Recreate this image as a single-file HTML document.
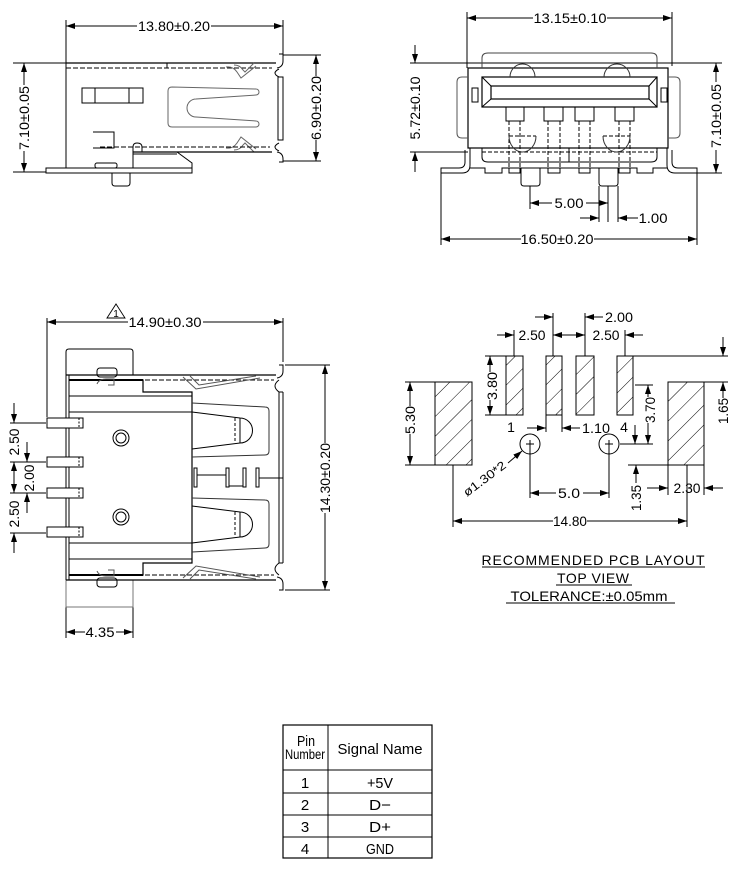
<!DOCTYPE html>
<html><head><meta charset="utf-8"><style>
html,body{margin:0;padding:0;background:#fff;}
svg{display:block;}
text{font-family:"Liberation Sans",sans-serif;font-size:14px;fill:#000;stroke:none;}
</style></head><body>
<svg width="733" height="872" viewBox="0 0 733 872" xmlns="http://www.w3.org/2000/svg">
<defs>
<marker id="ar" viewBox="0 0 9 6" refX="9" refY="3" markerWidth="9" markerHeight="6" markerUnits="userSpaceOnUse" orient="auto"><path d="M0,0 L9,3 L0,6 Z" fill="#000" stroke="none"/></marker>
<pattern id="h" width="14" height="14" patternUnits="userSpaceOnUse" patternTransform="rotate(45)"><line x1="0" y1="0" x2="0" y2="14" stroke="#000" stroke-width="1"/></pattern>
</defs>
<rect x="0" y="0" width="733" height="872" fill="#fff"/>
<g fill="none" stroke="#000" stroke-width="1">

<!-- ================= TOP LEFT VIEW ================= -->
<line x1="137" y1="26" x2="66" y2="26" marker-end="url(#ar)"/>
<line x1="211" y1="26" x2="283" y2="26" marker-end="url(#ar)"/>
<line x1="66" y1="20" x2="66" y2="168"/>
<line x1="283" y1="20" x2="283" y2="56"/>
<line x1="13" y1="63" x2="66" y2="63"/>
<line x1="13" y1="172" x2="46" y2="172"/>
<line x1="24" y1="85" x2="24" y2="63" marker-end="url(#ar)"/>
<line x1="24" y1="151" x2="24" y2="172" marker-end="url(#ar)"/>
<line x1="283" y1="55" x2="321" y2="55"/>
<line x1="283" y1="161" x2="321" y2="161"/>
<line x1="316" y1="76" x2="316" y2="55" marker-end="url(#ar)"/>
<line x1="316" y1="140" x2="316" y2="161" marker-end="url(#ar)"/>

<line x1="66" y1="63" x2="276" y2="63" stroke-width="1.2"/>
<line x1="66" y1="68" x2="272" y2="68" stroke-dasharray="5,2"/>
<line x1="167" y1="63" x2="167" y2="68"/>
<path d="M279,54 H283 V61 Q283,67 277,68"/>
<path d="M279,69 Q271,73 279,77"/>
<rect x="278" y="77" width="5" height="63"/>
<path d="M279,143 Q271,147 279,151"/>
<path d="M277,152 Q283,153 283,159 V162 H279"/>
<rect x="82" y="88" width="61" height="15"/>
<line x1="95" y1="88" x2="95" y2="103"/>
<line x1="129" y1="88" x2="129" y2="103"/>
<path d="M93,132 H114 V148 H93"/>
<path d="M172,87 L256,89 A3,3 0 0 1 256,95 L196,99 A9,9 0 0 0 196,117 L256,121 A3,3 0 0 1 256,127 L172,127 Q168,127 168,123 L168,91 Q168,87 172,87 Z" stroke="#666"/>
<path d="M226,67 Q233,66 237,72 L241,78 L256,66" stroke="#666"/>
<path d="M234,65 Q240,65 243,70 L245,72 L254,63" stroke="#666"/>
<path d="M226,148 Q233,149 237,143 L241,137 L256,149" stroke="#666"/>
<path d="M234,150 Q240,150 243,145 L245,143 L254,152" stroke="#666"/>
<line x1="100" y1="147" x2="270" y2="147" stroke-dasharray="5,2"/>
<line x1="133" y1="152" x2="272" y2="152" stroke-width="1.2"/>
<line x1="133" y1="154" x2="177" y2="154"/>
<path d="M177,152 L192,163 V173"/>
<path d="M133,152 V147 Q133,143 137,143 Q142,143 142,147 V152"/>
<line x1="133" y1="152" x2="133" y2="168"/>
<rect x="46" y="168" width="146" height="5"/>
<rect x="95" y="163" width="22" height="5" rx="2"/>
<path d="M112,173 V183 Q112,186 115,186 H127 Q130,186 130,183 V173"/>

<!-- ================= TOP RIGHT VIEW ================= -->
<line x1="533" y1="18" x2="467" y2="18" marker-end="url(#ar)"/>
<line x1="607" y1="18" x2="672" y2="18" marker-end="url(#ar)"/>
<line x1="467" y1="12" x2="467" y2="68"/>
<line x1="672" y1="12" x2="672" y2="66"/>
<line x1="410" y1="63" x2="722" y2="63"/>
<line x1="415" y1="45" x2="415" y2="63" marker-end="url(#ar)"/>
<line x1="415" y1="172" x2="415" y2="152" marker-end="url(#ar)"/>
<line x1="410" y1="152" x2="468" y2="152"/>
<line x1="716" y1="82" x2="716" y2="63" marker-end="url(#ar)"/>
<line x1="716" y1="150" x2="716" y2="173" marker-end="url(#ar)"/>
<line x1="697" y1="173" x2="722" y2="173"/>
<line x1="521" y1="239" x2="441" y2="239" marker-end="url(#ar)"/>
<line x1="594" y1="239" x2="697" y2="239" marker-end="url(#ar)"/>
<line x1="441" y1="173" x2="441" y2="245"/>
<line x1="697" y1="173" x2="697" y2="245"/>
<line x1="552" y1="203" x2="530" y2="203" marker-end="url(#ar)"/>
<line x1="586" y1="203" x2="608" y2="203" marker-end="url(#ar)"/>
<line x1="530" y1="186" x2="530" y2="209"/>
<line x1="599" y1="186" x2="599" y2="222"/>
<line x1="608" y1="186" x2="608" y2="222"/>
<line x1="618" y1="186" x2="618" y2="222"/>
<line x1="580" y1="218" x2="599" y2="218" marker-end="url(#ar)"/>
<line x1="638" y1="218" x2="618" y2="218" marker-end="url(#ar)"/>

<rect x="468" y="68" width="200" height="80" stroke-width="1.2"/>
<path d="M482,68 V58 Q482,53 488,53 H651 Q657,53 657,58 V68" stroke="#444"/>
<path d="M468,77 H462 Q457,77 457,82 V133 Q457,138 462,138 H468" stroke="#555"/>
<path d="M668,77 H675 Q680,77 680,82 V133 Q680,138 675,138 H668" stroke="#555"/>
<rect x="472" y="88" width="6" height="14"/>
<rect x="661" y="88" width="6" height="14"/>
<rect x="482" y="77" width="175" height="30" stroke-width="1.2"/>
<rect x="491" y="86" width="158" height="13" stroke-width="1.2"/>
<line x1="482" y1="77" x2="491" y2="86"/>
<line x1="657" y1="77" x2="649" y2="86"/>
<line x1="482" y1="107" x2="491" y2="99"/>
<line x1="657" y1="107" x2="649" y2="99"/>
<rect x="506" y="107" width="18" height="14"/>
<rect x="544" y="107" width="19" height="14"/>
<rect x="575" y="107" width="19" height="14"/>
<rect x="615" y="107" width="19" height="14"/>
<g stroke-dasharray="4,2">
<line x1="509" y1="121" x2="509" y2="168"/><line x1="520" y1="121" x2="520" y2="168"/>
<line x1="548" y1="121" x2="548" y2="168"/><line x1="560" y1="121" x2="560" y2="168"/>
<line x1="579" y1="121" x2="579" y2="168"/><line x1="590" y1="121" x2="590" y2="168"/>
<line x1="619" y1="121" x2="619" y2="168"/><line x1="630" y1="121" x2="630" y2="168"/>
<line x1="509" y1="136" x2="536" y2="136"/><line x1="603" y1="136" x2="630" y2="136"/>
<line x1="482" y1="152" x2="657" y2="152"/>
</g>
<path d="M510,77 A12.5,13 0 0 1 535,77" stroke="#333"/>
<path d="M604,77 A13,13 0 0 1 630,77" stroke="#333"/>
<path d="M536,136 A13.5,16 0 0 1 509,136" stroke="#333"/>
<path d="M630,136 A13.5,16 0 0 1 603,136" stroke="#333"/>
<path d="M482,148 V157 Q482,162 488,162 H651 Q657,162 657,157 V148"/>
<line x1="569" y1="148" x2="569" y2="162"/>
<path d="M465,150 V162 Q465,168 459,168 H441 V173 H462 Q470,173 470,165 V148"/>
<path d="M672,150 V162 Q672,168 678,168 H697 V173 H675 Q667,173 667,165 V148"/>
<polyline points="470,168 485,168 485,173 502,173 502,168 637,168 637,173 653,173 653,168 667,168"/>
<rect x="509" y="168" width="11" height="5"/>
<rect x="548" y="168" width="12" height="5"/>
<rect x="579" y="168" width="11" height="5"/>
<rect x="619" y="168" width="11" height="5"/>
<path d="M521,168 V183 Q521,186 524,186 H537 Q540,186 540,183 V168"/>
<path d="M599,168 V183 Q599,186 602,186 H615 Q618,186 618,183 V168"/>

<!-- ================= BOTTOM LEFT VIEW ================= -->
<path d="M107,318 L116,304 L125,318 Z" stroke-width="0.9"/>
<line x1="128" y1="322" x2="47" y2="322" marker-end="url(#ar)"/>
<line x1="203" y1="322" x2="283" y2="322" marker-end="url(#ar)"/>
<line x1="47" y1="318" x2="47" y2="417"/>
<line x1="283" y1="318" x2="283" y2="362"/>
<line x1="285" y1="365" x2="330" y2="365"/>
<line x1="285" y1="590" x2="330" y2="590"/>
<line x1="325" y1="443" x2="325" y2="365" marker-end="url(#ar)"/>
<line x1="325" y1="513" x2="325" y2="590" marker-end="url(#ar)"/>
<line x1="85" y1="632" x2="66" y2="632" marker-end="url(#ar)"/>
<line x1="116" y1="632" x2="133" y2="632" marker-end="url(#ar)"/>
<line x1="66" y1="607" x2="66" y2="638"/>
<line x1="133" y1="607" x2="133" y2="638"/>
<line x1="10" y1="423" x2="46" y2="423"/>
<line x1="10" y1="462" x2="46" y2="462"/>
<line x1="10" y1="493" x2="46" y2="493"/>
<line x1="10" y1="533" x2="46" y2="533"/>
<line x1="14" y1="403" x2="14" y2="423" marker-end="url(#ar)"/>
<line x1="27" y1="442" x2="27" y2="462" marker-end="url(#ar)"/>
<line x1="14" y1="477" x2="14" y2="462" marker-end="url(#ar)"/>
<line x1="14" y1="477" x2="14" y2="493" marker-end="url(#ar)"/>
<line x1="27" y1="513" x2="27" y2="493" marker-end="url(#ar)"/>
<line x1="14" y1="553" x2="14" y2="533" marker-end="url(#ar)"/>

<path d="M66,375 V352 Q66,349 69,349 H130 Q133,349 133,352 V375"/>
<path d="M66,580 V607 H133 V580" stroke="#777"/>
<line x1="66" y1="375" x2="276" y2="375" stroke-width="1.2"/>
<line x1="66" y1="580" x2="276" y2="580" stroke-width="1.2"/>
<line x1="145" y1="380" x2="274" y2="380" stroke-dasharray="5,2"/>
<line x1="145" y1="575" x2="274" y2="575" stroke-dasharray="5,2"/>
<line x1="66" y1="375" x2="66" y2="580"/>
<line x1="69" y1="375" x2="69" y2="580"/>
<path d="M69,380 H143 V392 H192 V563 H143 V575 H69" stroke-width="1.2"/>
<line x1="69" y1="380" x2="143" y2="380" stroke-width="2"/>
<line x1="69" y1="575" x2="143" y2="575" stroke-width="2"/>
<line x1="69" y1="396" x2="192" y2="396"/>
<line x1="69" y1="412" x2="192" y2="412"/>
<line x1="69" y1="543" x2="192" y2="543"/>
<line x1="69" y1="559" x2="192" y2="559"/>
<rect x="47" y="418" width="36" height="10" fill="#fff"/>
<rect x="47" y="457" width="36" height="10" fill="#fff"/>
<rect x="47" y="488" width="36" height="10" fill="#fff"/>
<rect x="47" y="527" width="36" height="10" fill="#fff"/>
<g stroke-dasharray="2,1.5">
<line x1="79" y1="418" x2="79" y2="428"/><line x1="79" y1="457" x2="79" y2="467"/>
<line x1="79" y1="488" x2="79" y2="498"/><line x1="79" y1="527" x2="79" y2="537"/>
</g>
<circle cx="121" cy="438" r="8"/><circle cx="121" cy="438" r="5"/>
<circle cx="121" cy="517" r="8"/><circle cx="121" cy="517" r="5"/>
<path d="M192,403 L265,407 Q269,407 269,411 L269,451 Q269,455 265,455 L192,457" stroke="#333"/>
<path d="M192,412 L240,418 A12.5,12.5 0 0 1 240,443 L192,449"/>
<line x1="235" y1="418" x2="235" y2="443" stroke-dasharray="3,2"/>
<line x1="240" y1="418" x2="240" y2="443"/>
<path d="M192,552 L265,548 Q269,548 269,544 L269,504 Q269,500 265,500 L192,498" stroke="#333"/>
<path d="M192,543 L240,537 A12.5,12.5 0 0 0 240,512 L192,506"/>
<line x1="235" y1="512" x2="235" y2="537" stroke-dasharray="3,2"/>
<line x1="240" y1="512" x2="240" y2="537"/>
<rect x="194" y="468" width="3" height="19"/>
<rect x="226" y="468" width="3" height="19"/>
<rect x="243" y="468" width="3" height="19"/>
<rect x="256" y="468" width="3" height="19"/>
<line x1="197" y1="475" x2="226" y2="475"/>
<line x1="229" y1="486" x2="243" y2="486"/>
<line x1="259" y1="478" x2="283" y2="478"/>
<path d="M279,365 H283 V371 Q283,377 277,378"/>
<path d="M279,380 Q271,386 279,392"/>
<line x1="279" y1="392" x2="279" y2="563"/>
<line x1="283" y1="392" x2="283" y2="563"/>
<line x1="279" y1="392" x2="283" y2="392"/>
<line x1="279" y1="563" x2="283" y2="563"/>
<path d="M279,563 Q271,569 279,575"/>
<path d="M277,577 Q283,578 283,584 V590 H279"/>
<path d="M183,377 L196,389 L260,378" stroke="#555"/>
<path d="M190,376 L199,385 L256,376" stroke="#555"/>
<path d="M183,578 L196,566 L260,577" stroke="#555"/>
<path d="M190,579 L199,570 L256,579" stroke="#555"/>
<rect x="97" y="368" width="20" height="9" rx="3"/>
<path d="M97,384 Q99,379 106,379 H114 V385 H108" stroke="#555"/>
<rect x="97" y="578" width="20" height="9" rx="3"/>
<path d="M97,571 Q99,576 106,576 H114 V570 H108" stroke="#555"/>

<!-- ================= PCB LAYOUT ================= -->
<rect x="506" y="356" width="17" height="59" fill="url(#h)"/>
<rect x="546" y="356" width="16" height="59" fill="url(#h)"/>
<rect x="576" y="356" width="18" height="59" fill="url(#h)"/>
<rect x="617" y="356" width="16" height="59" fill="url(#h)"/>
<rect x="435" y="382" width="37" height="83" fill="url(#h)"/>
<rect x="668" y="382" width="36" height="83" fill="url(#h)"/>
<circle cx="530" cy="444" r="10"/>
<circle cx="609" cy="444" r="10"/>
<line x1="526" y1="444" x2="534" y2="444"/><line x1="530" y1="440" x2="530" y2="448"/>
<line x1="605" y1="444" x2="613" y2="444"/><line x1="609" y1="440" x2="609" y2="448"/>
<line x1="514" y1="330" x2="514" y2="356"/>
<line x1="553" y1="313" x2="553" y2="356"/>
<line x1="585" y1="313" x2="585" y2="356"/>
<line x1="625" y1="330" x2="625" y2="356"/>
<line x1="497" y1="335" x2="514" y2="335" marker-end="url(#ar)"/>
<line x1="569" y1="335" x2="553" y2="335" marker-end="url(#ar)"/>
<line x1="569" y1="335" x2="585" y2="335" marker-end="url(#ar)"/>
<line x1="643" y1="335" x2="625" y2="335" marker-end="url(#ar)"/>
<line x1="535" y1="317" x2="553" y2="317" marker-end="url(#ar)"/>
<line x1="603" y1="317" x2="585" y2="317" marker-end="url(#ar)"/>
<line x1="485" y1="356" x2="506" y2="356"/>
<line x1="485" y1="415" x2="506" y2="415"/>
<line x1="490" y1="372" x2="490" y2="356" marker-end="url(#ar)"/>
<line x1="490" y1="400" x2="490" y2="415" marker-end="url(#ar)"/>
<line x1="405" y1="382" x2="435" y2="382"/>
<line x1="405" y1="465" x2="435" y2="465"/>
<line x1="410" y1="406" x2="410" y2="382" marker-end="url(#ar)"/>
<line x1="410" y1="434" x2="410" y2="465" marker-end="url(#ar)"/>
<line x1="635" y1="385" x2="653" y2="385"/>
<line x1="620" y1="444" x2="653" y2="444"/>
<line x1="648" y1="397" x2="648" y2="385" marker-end="url(#ar)"/>
<line x1="648" y1="423" x2="648" y2="444" marker-end="url(#ar)"/>
<line x1="635" y1="425" x2="635" y2="444" marker-end="url(#ar)"/>
<line x1="633" y1="356" x2="728" y2="356"/>
<line x1="704" y1="382" x2="728" y2="382"/>
<line x1="723" y1="337" x2="723" y2="356" marker-end="url(#ar)"/>
<line x1="723" y1="398" x2="723" y2="382" marker-end="url(#ar)"/>
<line x1="628" y1="465" x2="668" y2="465"/>
<line x1="636" y1="483" x2="636" y2="465" marker-end="url(#ar)"/>
<line x1="668" y1="465" x2="668" y2="495"/>
<line x1="704" y1="465" x2="704" y2="495"/>
<line x1="647" y1="488" x2="668" y2="488" marker-end="url(#ar)"/>
<line x1="723" y1="488" x2="704" y2="488" marker-end="url(#ar)"/>
<line x1="530" y1="444" x2="530" y2="498"/>
<line x1="609" y1="444" x2="609" y2="498"/>
<line x1="556" y1="493" x2="530" y2="493" marker-end="url(#ar)"/>
<line x1="583" y1="493" x2="609" y2="493" marker-end="url(#ar)"/>
<line x1="453" y1="465" x2="453" y2="527"/>
<line x1="687" y1="465" x2="687" y2="527"/>
<line x1="553" y1="521" x2="453" y2="521" marker-end="url(#ar)"/>
<line x1="587" y1="521" x2="687" y2="521" marker-end="url(#ar)"/>
<line x1="508" y1="463" x2="522" y2="451" marker-end="url(#ar)"/>
<line x1="527" y1="428" x2="546" y2="428" marker-end="url(#ar)"/>
<line x1="580" y1="428" x2="562" y2="428" marker-end="url(#ar)"/>
<line x1="546" y1="415" x2="546" y2="432"/>
<line x1="562" y1="415" x2="562" y2="432"/>
<line x1="482" y1="567" x2="705" y2="567"/>
<line x1="556" y1="585" x2="632" y2="585"/>
<line x1="506" y1="603" x2="675" y2="603"/>

<!-- ================= TABLE ================= -->
<rect x="283" y="725" width="149" height="133" stroke-width="1.2"/>
<line x1="328" y1="725" x2="328" y2="858"/>
<line x1="283" y1="770" x2="432" y2="770"/>
<line x1="283" y1="793" x2="432" y2="793"/>
<line x1="283" y1="815" x2="432" y2="815"/>
<line x1="283" y1="837" x2="432" y2="837"/>
</g>

<!-- ================= TEXT ================= -->
<g text-anchor="middle">
<text x="174" y="31" textLength="72" lengthAdjust="spacingAndGlyphs">13.80±0.20</text>
<text x="24" y="118" dy="5" transform="rotate(-90 24 118)" textLength="64" lengthAdjust="spacingAndGlyphs">7.10±0.05</text>
<text x="316" y="108" dy="5" transform="rotate(-90 316 108)" textLength="64" lengthAdjust="spacingAndGlyphs">6.90±0.20</text>

<text x="570" y="23" textLength="73" lengthAdjust="spacingAndGlyphs">13.15±0.10</text>
<text x="415" y="108" dy="5" transform="rotate(-90 415 108)" textLength="63" lengthAdjust="spacingAndGlyphs">5.72±0.10</text>
<text x="716" y="116" dy="5" transform="rotate(-90 716 116)" textLength="64" lengthAdjust="spacingAndGlyphs">7.10±0.05</text>
<text x="557" y="244" textLength="73" lengthAdjust="spacingAndGlyphs">16.50±0.20</text>
<text x="569" y="208" textLength="29" lengthAdjust="spacingAndGlyphs">5.00</text>
<text x="653" y="223" textLength="29" lengthAdjust="spacingAndGlyphs">1.00</text>

<text x="116" y="317" style="font-size:10px">1</text>
<text x="165" y="327" textLength="73" lengthAdjust="spacingAndGlyphs">14.90±0.30</text>
<text x="325" y="478" dy="5" transform="rotate(-90 325 478)" textLength="70" lengthAdjust="spacingAndGlyphs">14.30±0.20</text>
<text x="100" y="637" textLength="29" lengthAdjust="spacingAndGlyphs">4.35</text>
<text x="14" y="442" dy="5" transform="rotate(-90 14 442)" textLength="27" lengthAdjust="spacingAndGlyphs">2.50</text>
<text x="29" y="478" dy="5" transform="rotate(-90 29 478)" textLength="27" lengthAdjust="spacingAndGlyphs">2.00</text>
<text x="14" y="514" dy="5" transform="rotate(-90 14 514)" textLength="27" lengthAdjust="spacingAndGlyphs">2.50</text>

<text x="532" y="340" textLength="27" lengthAdjust="spacingAndGlyphs">2.50</text>
<text x="606" y="340" textLength="27" lengthAdjust="spacingAndGlyphs">2.50</text>
<text x="619" y="322" textLength="28" lengthAdjust="spacingAndGlyphs">2.00</text>
<text x="492" y="386" dy="5" transform="rotate(-90 492 386)" textLength="28" lengthAdjust="spacingAndGlyphs">3.80</text>
<text x="410" y="420" dy="5" transform="rotate(-90 410 420)" textLength="28" lengthAdjust="spacingAndGlyphs">5.30</text>
<text x="650" y="410" dy="5" transform="rotate(-90 650 410)" textLength="26" lengthAdjust="spacingAndGlyphs">3.70</text>
<text x="723" y="411" dy="5" transform="rotate(-90 723 411)" textLength="26" lengthAdjust="spacingAndGlyphs">1.65</text>
<text x="636" y="498" dy="5" transform="rotate(-90 636 498)" textLength="26" lengthAdjust="spacingAndGlyphs">1.35</text>
<text x="687" y="493" textLength="27" lengthAdjust="spacingAndGlyphs">2.30</text>
<text x="569" y="498" textLength="22" lengthAdjust="spacingAndGlyphs">5.0</text>
<text x="570" y="526" textLength="34" lengthAdjust="spacingAndGlyphs">14.80</text>
<text x="596" y="433" textLength="28" lengthAdjust="spacingAndGlyphs">1.10</text>
<text x="511" y="432" style="font-size:14px">1</text>
<text x="624" y="432" style="font-size:14px">4</text>
<text x="487" y="482" transform="rotate(-37 487 482)" style="font-size:12px" textLength="50" lengthAdjust="spacingAndGlyphs">ø1.30*2</text>
<text x="593" y="565" textLength="223" lengthAdjust="spacing">RECOMMENDED  PCB  LAYOUT</text>
<text x="593" y="583" textLength="72" lengthAdjust="spacing">TOP  VIEW</text>
<text x="589" y="601" textLength="157" lengthAdjust="spacingAndGlyphs">TOLERANCE:±0.05mm</text>

<text x="306" y="746" style="font-size:15px" textLength="18" lengthAdjust="spacingAndGlyphs">Pin</text>
<text x="305" y="759" style="font-size:14px" textLength="40" lengthAdjust="spacingAndGlyphs">Number</text>
<text x="380" y="754" style="font-size:15px" textLength="85" lengthAdjust="spacingAndGlyphs">Signal Name</text>
<text x="305" y="788" style="font-size:15px">1</text>
<text x="380" y="788" style="font-size:15px" textLength="26" lengthAdjust="spacingAndGlyphs">+5V</text>
<text x="305" y="810" style="font-size:15px">2</text>
<text x="380" y="810" style="font-size:15px" textLength="22" lengthAdjust="spacingAndGlyphs">D−</text>
<text x="305" y="832" style="font-size:15px">3</text>
<text x="380" y="832" style="font-size:15px" textLength="22" lengthAdjust="spacingAndGlyphs">D+</text>
<text x="305" y="854" style="font-size:15px">4</text>
<text x="380" y="854" style="font-size:15px" textLength="28" lengthAdjust="spacingAndGlyphs">GND</text>
</g>
</svg>
</body></html>
